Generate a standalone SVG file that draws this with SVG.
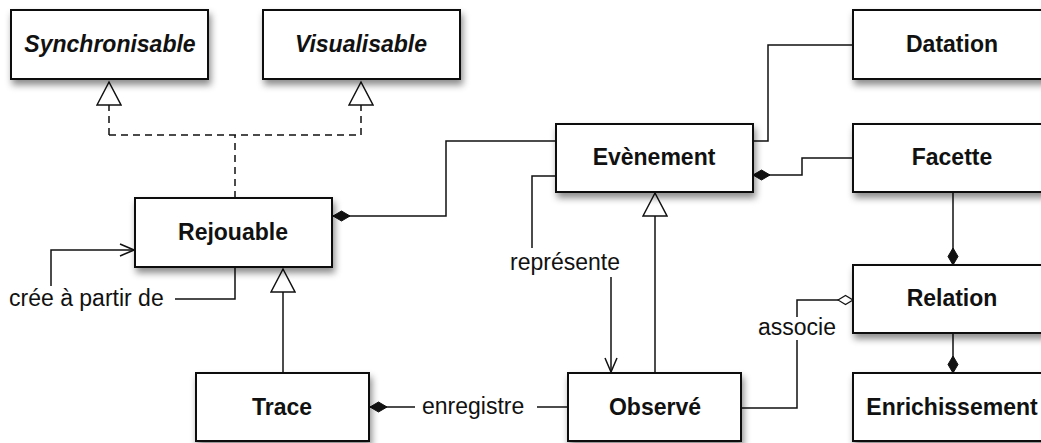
<svg xmlns="http://www.w3.org/2000/svg" width="1041" height="443" viewBox="0 0 1041 443">
<defs>
<filter id="sh" x="-20%" y="-20%" width="150%" height="160%">
<feDropShadow dx="2" dy="5" stdDeviation="3.5" flood-color="#000" flood-opacity="0.45"/>
</filter>
<marker id="open" markerWidth="16" markerHeight="14" refX="15" refY="7" orient="auto" markerUnits="userSpaceOnUse">
<path d="M1,1 L15,7 L1,13" fill="none" stroke="#111" stroke-width="1.5"/>
</marker>
<marker id="fd" markerWidth="20" markerHeight="12" refX="18" refY="6" orient="auto" markerUnits="userSpaceOnUse">
<path d="M1,6 L9.5,1 L18,6 L9.5,11 Z" fill="#111" stroke="#111" stroke-width="1"/>
</marker>
<marker id="od" markerWidth="20" markerHeight="12" refX="16.5" refY="6" orient="auto" markerUnits="userSpaceOnUse">
<path d="M1.5,6 L9,1.5 L16.5,6 L9,10.5 Z" fill="#fff" stroke="#111" stroke-width="1.2"/>
</marker>
<marker id="tri" markerWidth="32" markerHeight="26" refX="24" refY="13" orient="auto" markerUnits="userSpaceOnUse">
<path d="M1,1 L24,13 L1,25 Z" fill="#fff" stroke="#111" stroke-width="1.5"/>
</marker>
</defs>
<style>
.box{fill:#fff;stroke:#111;stroke-width:2;filter:url(#sh)}
.t{font-family:"Liberation Sans",Arial,sans-serif;font-size:23px;font-weight:bold;fill:#111;text-anchor:middle}
.ti{font-style:italic}
.l{font-family:"Liberation Sans",Arial,sans-serif;font-size:23px;fill:#111}
.c{fill:none;stroke:#111;stroke-width:1.5}
.d{stroke-dasharray:7,5}
</style>
<g id="connectors">
<path class="c d" d="M235,198 V135"/>
<path class="c d" d="M109,135 H361"/>
<path class="c d" d="M109,135 V82" marker-end="url(#tri)"/>
<path class="c d" d="M361,135 V82" marker-end="url(#tri)"/>
<path class="c" d="M283,373 V269" marker-end="url(#tri)"/>
<path class="c" d="M655,373 V193" marker-end="url(#tri)"/>
<path class="c" d="M556,141 H446 V216 H333" marker-end="url(#fd)"/>
<path class="c" d="M753,141 H768 V45 H853"/>
<path class="c" d="M853,158 H802 V175 H753" marker-end="url(#fd)"/>
<path class="c" d="M953,192 V265" marker-end="url(#fd)"/>
<path class="c" d="M953,333 V373" marker-end="url(#fd)"/>
<path class="c" d="M556,176 H532 V248"/>
<path class="c" d="M611,277 V372" marker-end="url(#open)"/>
<text class="l" x="565" y="270" text-anchor="middle">représente</text>
<path class="c" d="M235,267 V299 H175"/>
<path class="c" d="M51,286 V250 H134" marker-end="url(#open)"/>
<text class="l" x="9" y="306">crée à partir de</text>
<path class="c" d="M415,407 H370" marker-end="url(#fd)"/>
<path class="c" d="M537,407 H568"/>
<text class="l" x="422" y="414">enregistre</text>
<path class="c" d="M741,408 H797 V340"/>
<path class="c" d="M797,317 V300 H853" marker-end="url(#od)"/>
<text class="l" x="797" y="335" text-anchor="middle">associe</text>
</g>
<g id="node-synchronisable">
<rect class="box" x="11" y="10" width="197" height="69"/>
<text class="t ti" x="110" y="52">Synchronisable</text>
</g>
<g id="node-visualisable">
<rect class="box" x="263" y="10" width="197" height="69"/>
<text class="t ti" x="361" y="52">Visualisable</text>
</g>
<g id="node-rejouable">
<rect class="box" x="135" y="198" width="197" height="69"/>
<text class="t" x="233" y="240">Rejouable</text>
</g>
<g id="node-trace">
<rect class="box" x="196" y="373" width="173" height="68"/>
<text class="t" x="282" y="415">Trace</text>
</g>
<g id="node-evenement">
<rect class="box" x="556" y="124" width="197" height="68"/>
<text class="t" x="654" y="165">Evènement</text>
</g>
<g id="node-observe">
<rect class="box" x="568" y="373" width="173" height="68"/>
<text class="t" x="655" y="415">Observé</text>
</g>
<g id="node-datation">
<rect class="box" x="853" y="10" width="198" height="69"/>
<text class="t" x="952" y="52">Datation</text>
</g>
<g id="node-facette">
<rect class="box" x="853" y="124" width="198" height="68"/>
<text class="t" x="952" y="165">Facette</text>
</g>
<g id="node-relation">
<rect class="box" x="853" y="265" width="198" height="68"/>
<text class="t" x="952" y="306">Relation</text>
</g>
<g id="node-enrichissement">
<rect class="box" x="853" y="373" width="198" height="68"/>
<text class="t" x="952" y="415">Enrichissement</text>
</g>
</svg>
